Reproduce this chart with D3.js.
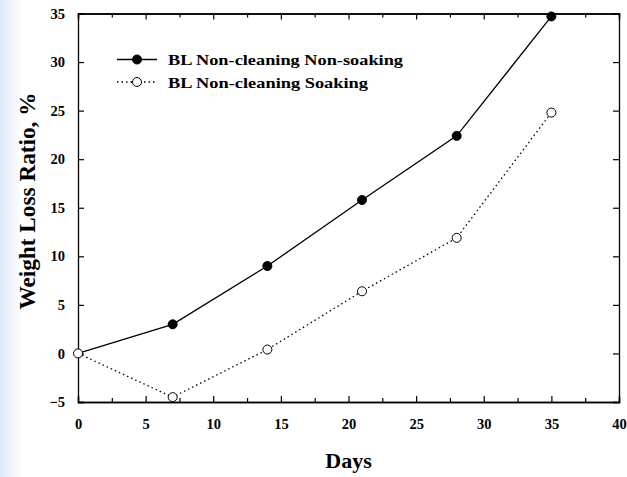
<!DOCTYPE html>
<html><head><meta charset="utf-8">
<script src="https://cdn.jsdelivr.net/npm/d3@7"></script>
<style>body{margin:0;background:#fff}svg{display:block}</style>
</head><body>
<svg id="c" width="627" height="477"></svg>
<script>
const days = [0, 7, 14, 21, 28, 35];
const nonSoaking = [0, 3.0, 9.0, 15.8, 22.4, 34.7];
const soaking = [0, -4.5, 0.4, 6.4, 11.9, 24.8];
const seriesNames = ["BL Non-cleaning Non-soaking", "BL Non-cleaning Soaking"];
const xTicks = [0, 5, 10, 15, 20, 25, 30, 35, 40];
const yTicks = [-5, 0, 5, 10, 15, 20, 25, 30, 35];

const svg = d3.select("#c");
const font = "'Liberation Serif','Times New Roman',serif";
const L = 78, R = 619, T = 13.5, B = 402;
const x = d3.scaleLinear().domain([0, 40]).range([L, R]);
const y = d3.scaleLinear().domain([-5, 35]).range([B, T]);

// faint watermark band on the left
const grad = svg.append("defs").append("linearGradient").attr("id","g").attr("x1","0").attr("x2","1");
grad.append("stop").attr("offset","0").attr("stop-color","#dde8f4");
grad.append("stop").attr("offset","1").attr("stop-color","#ffffff");
svg.append("rect").attr("x",0).attr("y",0).attr("width",22).attr("height",477).attr("fill","url(#g)");

// axes (ticks inward)
const ax = svg.append("g");
ax.append("g").attr("transform",`translate(0,${B})`)
  .call(d3.axisBottom(x).tickValues(xTicks).tickSize(-6).tickPadding(17).tickFormat(d3.format("d")));
ax.append("g").attr("transform",`translate(0,${B})`)
  .call(d3.axisBottom(x).tickValues(d3.range(2.5, 40, 5)).tickSize(-4).tickFormat(""));
ax.append("g").attr("transform",`translate(0,${T})`)
  .call(d3.axisTop(x).tickValues(xTicks).tickSize(-6).tickFormat(""));
ax.append("g").attr("transform",`translate(0,${T})`)
  .call(d3.axisTop(x).tickValues(d3.range(2.5, 40, 5)).tickSize(-4).tickFormat(""));
ax.append("g").attr("transform",`translate(${L},0)`)
  .call(d3.axisLeft(y).tickValues(yTicks).tickSize(-6).tickPadding(13).tickFormat(d3.format("d")));
ax.append("g").attr("transform",`translate(${R},0)`)
  .call(d3.axisRight(y).tickValues(yTicks).tickSize(-6).tickFormat(""));
ax.selectAll(".domain").attr("stroke","#000").attr("stroke-width",1.3);
ax.selectAll(".tick line").attr("stroke","#000").attr("stroke-width",1.2);
ax.selectAll(".tick text").attr("font-family",font).attr("font-size",14.5)
  .attr("font-weight","bold").attr("fill","#000");

// lines
const line = d3.line().x((d,i)=>x(days[i])).y(d=>y(d));
svg.append("path").datum(soaking).attr("d",line).attr("fill","none")
  .attr("stroke","#000").attr("stroke-width",1.3).attr("stroke-dasharray","1.5,3");
svg.append("path").datum(nonSoaking).attr("d",line).attr("fill","none")
  .attr("stroke","#000").attr("stroke-width",1.3);
svg.selectAll(".ms").data(soaking).enter().append("circle")
  .attr("cx",(d,i)=>x(days[i])).attr("cy",d=>y(d)).attr("r",4.5)
  .attr("fill","#fff").attr("stroke","#000").attr("stroke-width",1);
svg.selectAll(".mn").data(nonSoaking).enter().append("circle")
  .attr("cx",(d,i)=>x(days[i])).attr("cy",d=>y(d)).attr("r",4.5)
  .attr("fill","#000").attr("stroke","#000").attr("stroke-width",1)
  .filter((d,i)=>i===0).remove();

// legend
const lg = svg.append("g");
const rows = [{y:59.5, dash:null, fill:"#000", w:235}, {y:82, dash:"1.5,3", fill:"#fff", w:200}];
rows.forEach((r,i)=>{
  lg.append("line").attr("x1",117).attr("x2",157).attr("y1",r.y).attr("y2",r.y)
    .attr("stroke","#000").attr("stroke-width",1.3).attr("stroke-dasharray",r.dash);
  lg.append("circle").attr("cx",137).attr("cy",r.y).attr("r",4.5)
    .attr("fill",r.fill).attr("stroke","#000");
  lg.append("text").attr("x",168).attr("y",r.y+5.5).text(seriesNames[i])
    .attr("font-family",font).attr("font-size",15.5).attr("font-weight","bold")
    .attr("textLength",r.w).attr("lengthAdjust","spacingAndGlyphs");
});

// axis titles
svg.append("text").attr("x",(L+R)/2).attr("y",468).attr("text-anchor","middle")
  .attr("font-family",font).attr("font-size",22).attr("font-weight","bold").text("Days");
svg.append("text").attr("transform",`translate(35,201) rotate(-90)`).attr("text-anchor","middle")
  .attr("font-family",font).attr("font-size",23).attr("font-weight","bold")
  .attr("textLength",217).attr("lengthAdjust","spacingAndGlyphs").text("Weight Loss Ratio, %");
</script>
</body></html>
